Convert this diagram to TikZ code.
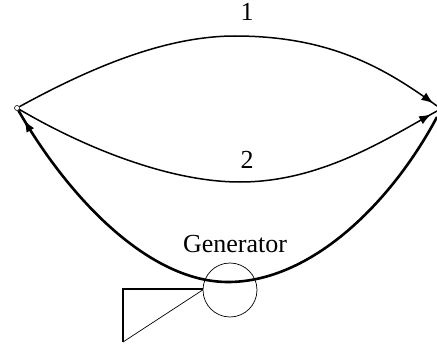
\documentclass[tikz,border=0pt]{standalone}
\usepackage{fontspec}
\setmainfont{Liberation Serif}
\usetikzlibrary{arrows.meta,decorations.markings}
\tikzset{
  lbl/.style={inner sep=0pt,font=\fontsize{26}{28}\selectfont},
  wire/.style={line width=1.5pt},
  heavy/.style={line width=2.6pt},
  tip/.style={postaction={decorate,decoration={markings,mark=at position #1 with {\arrow{Latex[length=12pt,width=9pt]}}}}},
  gen/.style={draw,circle,minimum size=54pt,inner sep=0pt,line width=.7pt},
  port/.style={draw,circle,minimum size=5pt,inner sep=0pt,line width=.6pt,fill=white}
}
\begin{document}
\begin{tikzpicture}[x=1pt,y=-1pt]
\useasboundingbox (0,0) rectangle (437,345);
\coordinate (R1) at (437,106);
\coordinate (R2) at (437,111);
\coordinate (R3) at (437,117);
\coordinate (T1) at (123,289);
\coordinate (T2) at (123,342);
\node[gen] (G) at (230,290) {};
\node[port] (P) at (17,108) {};
\draw[wire,tip=0.99] (P) .. controls (90,68) and (165,36) .. (235,36) .. controls (330,36) and (385,68) .. (R1);
\draw[wire,tip=0.985] (P) .. controls (85,148) and (170,182) .. (240,182) .. controls (320,182) and (385,140) .. (R2);
\draw[heavy,tip=0.98] (R3) .. controls (390,205) and (310,282) .. (228,282) .. controls (150,282) and (70,200) .. (P);
\draw[wire] (G.west |- T1) -- (T1) -- (T2);
\draw[line width=.7pt] (T2) -- (G.180);
\node[lbl] (n1) at (247,12) {1};
\node[lbl] (n2) at (247,160) {2};
\node[lbl] (n3) at (235,244) {Generator};
\end{tikzpicture}
\end{document}
